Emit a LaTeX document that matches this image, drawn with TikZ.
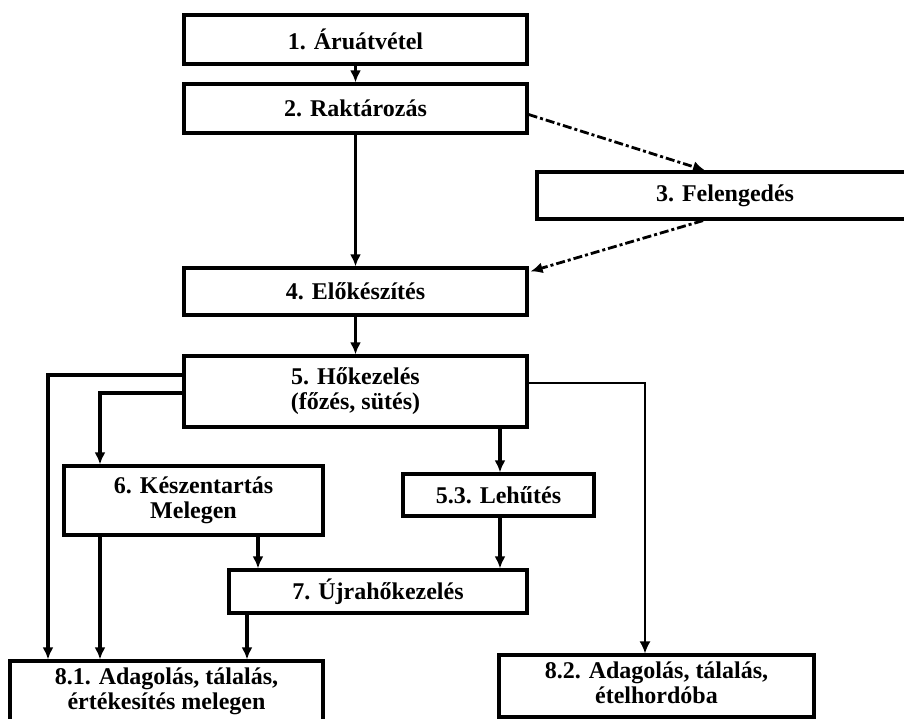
\documentclass[tikz,border=0pt]{standalone}
\usepackage{fontspec}
\setmainfont{Liberation Serif}
\usetikzlibrary{arrows.meta,calc}

\begin{document}
\begin{tikzpicture}[x=1pt, y=-1pt, font=\bfseries\fontsize{24}{25}\selectfont, >={Latex[length=12pt,width=11pt]}, line width=3.5pt, main/.style = {draw, rectangle, line width=3.2pt, align=center, inner sep=0pt, fill=white}, dotdash/.style = {->, line width=2.8pt, dash pattern=on 9pt off 3pt on 3pt off 3pt}]
                \useasboundingbox (0,0) rectangle (904,719);
                \clip (0,0) rectangle (904,719);
                \node[main, minimum width=343pt, minimum height=49pt] (n1) at (355.5,39.5) {1. Áruátvétel};
                \node[main, minimum width=343pt, minimum height=49pt] (n2) at (355.5,108.5) {2. Raktározás};
                \node[main, minimum width=376pt, minimum height=47pt] (n3) at (725,195.5) {\raisebox{4pt}{3. Felengedés}};
                \node[main, minimum width=343pt, minimum height=47pt] (n4) at (355.5,291.5) {4. Előkészítés};
                \node[main, minimum width=343pt, minimum height=71pt] (n5) at (355.5,391.5) {\raisebox{4pt}{\begin{tabular}{@{}c@{}}5. Hőkezelés\\(főzés, sütés)\end{tabular}}};
                \node[main, minimum width=259pt, minimum height=69pt] (n6) at (193.5,500.5) {\raisebox{3pt}{\begin{tabular}{@{}c@{}}6. Készentartás\\Melegen\end{tabular}}};
                \node[main, minimum width=191pt, minimum height=42pt] (n53) at (498.5,495) {5.3. Lehűtés};
                \node[main, minimum width=298pt, minimum height=43pt] (n7) at (378,591.5) {7. Újrahőkezelés};
                \node[main, minimum width=313pt, minimum height=62pt] (n81) at (166.5,692) {\begin{tabular}{@{}c@{}}8.1. Adagolás, tálalás,\\értékesítés melegen\end{tabular}};
                \node[main, minimum width=315pt, minimum height=62pt] (n82) at (656.5,686) {\begin{tabular}{@{}c@{}}8.2. Adagolás, tálalás,\\ételhordóba\end{tabular}};
                % bend points of the side lines
                \coordinate (c1) at (48,375);
                \coordinate (c2) at (100,393);
                \coordinate (c3) at (258,0);
                \coordinate (c4) at (247,0);
                \coordinate (c5) at (500,0);
                \coordinate (c6) at (645,383);
                \draw[->] (n1) -- (n2);
                \draw[->] (n2) -- (n4);
                \draw[->] (n4) -- (n5);
                \draw[dotdash] ($(n2.east)+(0,6)$) -- ($(n3.north)+(-20,0)$);
                \draw[dotdash] ($(n3.south)+(-22,0)$) -- ($(n4.north east)+(2,5)$);
                \draw[->] (n5.west |- c1) -- (c1) -- (c1 |- n81.north);
                \draw[->] (n5.west |- c2) -- (c2) -- (c2 |- n6.north);
                \draw[->] (c2 |- n6.south) -- (c2 |- n81.north);
                \draw[->] (c3 |- n6.south) -- (c3 |- n7.north);
                \draw[->] (c4 |- n7.south) -- (c4 |- n81.north);
                \draw[->] (c5 |- n5.south) -- (c5 |- n53.north);
                \draw[->] (c5 |- n53.south) -- (c5 |- n7.north);
                \draw[->, line width=1.8pt] (n5.east |- c6) -- (c6) -- (c6 |- n82.north);
            \end{tikzpicture}
\end{document}
